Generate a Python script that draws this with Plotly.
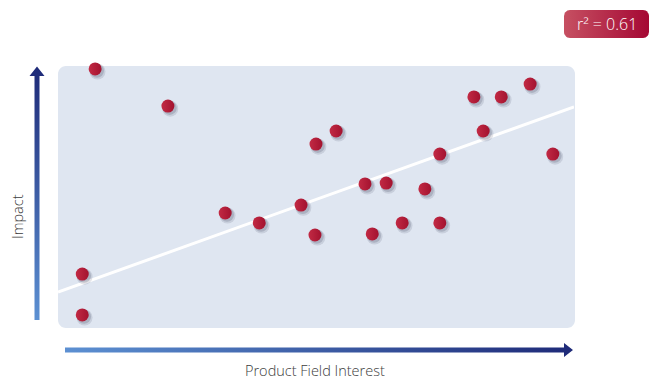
import plotly.graph_objects as go
import numpy as np

# ---- data ----
interest = [7.2, 21.3, 4.7, 4.7, 32.4, 39.0, 47.1, 49.8, 50.0, 53.9, 59.5,
            60.9, 63.6, 66.7, 71.1, 74.0, 74.0, 80.6, 82.4, 85.9, 91.5, 95.9]
impact = [98.9, 84.7, 20.6, 5.0, 43.9, 40.1, 46.9, 35.5, 70.2, 75.2, 55.0,
          35.9, 55.3, 40.1, 53.1, 66.4, 40.1, 88.2, 75.2, 88.2, 93.1, 66.4]
trend_x = [0, 100]
trend_y = [13.7, 84.4]
r2_label = "r² = 0.61"
x_title = "Product Field Interest"
y_title = "Impact"

W, H = 657, 379
FONT = "Open Sans"

fig = go.Figure()


def rounded_poly(x0, y0, x1, y1, r, n=8):
    xs, ys = [], []
    corners = [(x1 - r, y0 + r, -90, 0), (x1 - r, y1 - r, 0, 90),
               (x0 + r, y1 - r, 90, 180), (x0 + r, y0 + r, 180, 270)]
    for cx, cy, a0, a1 in corners:
        for a in np.linspace(a0, a1, n):
            xs.append(cx + r * np.cos(np.radians(a)))
            ys.append(cy + r * np.sin(np.radians(a)))
    xs.append(xs[0]); ys.append(ys[0])
    return xs, ys


# plot background rounded rect as paper shape (below everything)
bx, by = rounded_poly(58, 66, 575, 328, 8)
path = "M " + " L ".join(f"{x / W:.5f},{1 - y / H:.5f}" for x, y in zip(bx, by)) + " Z"
fig.add_shape(type="path", path=path, xref="paper", yref="paper",
              fillcolor="#dfe6f1", line=dict(width=0), layer="below")

# vertical arrow
vx = [34.5, 39.5, 39.5, 44.5, 37, 29.5, 34.5, 34.5]
vy = [320, 320, 76, 76, 66.5, 76, 76, 320]
fig.add_trace(go.Scatter(x=vx, y=vy, xaxis="x2", yaxis="y2", mode="lines",
                         fill="toself", line=dict(width=0),
                         fillgradient=dict(type="vertical", start=320, stop=67,
                                           colorscale=[[0, "#5c90d2"], [1, "#1e2a78"]]),
                         hoverinfo="skip", showlegend=False))
# horizontal arrow
hx = [65, 564, 564, 573, 564, 564, 65, 65]
hy = [347.5, 347.5, 343, 350, 357, 352.5, 352.5, 347.5]
fig.add_trace(go.Scatter(x=hx, y=hy, xaxis="x2", yaxis="y2", mode="lines",
                         fill="toself", line=dict(width=0),
                         fillgradient=dict(type="horizontal", start=65, stop=573,
                                           colorscale=[[0, "#5c90d2"], [1, "#1e2a78"]]),
                         hoverinfo="skip", showlegend=False))
# r2 badge
rx, ry = rounded_poly(564, 10, 649, 38, 6)
fig.add_trace(go.Scatter(x=rx, y=ry, xaxis="x2", yaxis="y2", mode="lines",
                         fill="toself", line=dict(width=0),
                         fillgradient=dict(type="horizontal", start=564, stop=649,
                                           colorscale=[[0, "#c65062"], [1, "#a50834"]]),
                         hoverinfo="skip", showlegend=False))

# trend line
fig.add_trace(go.Scatter(x=trend_x, y=trend_y, mode="lines",
                         line=dict(color="white", width=3),
                         hoverinfo="skip", showlegend=False))

# marker shadows
for dx, dy, s, a in [(0.45, -1.0, 16, 0.12), (0.35, -0.7, 14, 0.18)]:
    fig.add_trace(go.Scatter(x=[v + dx for v in interest], y=[v + dy for v in impact],
                             mode="markers",
                             marker=dict(size=s, color=f"rgba(40,45,70,{a})", line=dict(width=0)),
                             hoverinfo="skip", showlegend=False, cliponaxis=False))
# markers
fig.add_trace(go.Scatter(x=interest, y=impact, mode="markers",
                         marker=dict(size=13, color="#c22a44", line=dict(width=0),
                                     gradient=dict(type="horizontal", color="#a3122f")),
                         showlegend=False, cliponaxis=False))

fig.add_annotation(x=606.5, y=24, xref="x2", yref="y2", text=r2_label, showarrow=False,
                   font=dict(family=FONT, size=16, color="white", weight=300))
fig.add_annotation(x=315, y=370, xref="x2", yref="y2", text=x_title, showarrow=False,
                   font=dict(family=FONT, size=14.5, color="#3c3c3c", weight=300))
fig.add_annotation(x=17, y=217, xref="x2", yref="y2", text=y_title, showarrow=False,
                   textangle=-90, font=dict(family=FONT, size=14.5, color="#3c3c3c", weight=300))

fig.update_layout(
    width=W, height=H, margin=dict(l=0, r=0, t=0, b=0),
    paper_bgcolor="white", plot_bgcolor="rgba(0,0,0,0)",
    xaxis=dict(domain=[58 / W, 574 / W], range=[0, 100], visible=False, fixedrange=True),
    yaxis=dict(domain=[51 / H, 313 / H], range=[0, 100], visible=False, fixedrange=True),
    xaxis2=dict(domain=[0, 1], range=[0, W], visible=False, anchor="y2"),
    yaxis2=dict(domain=[0, 1], range=[H, 0], visible=False, anchor="x2"),
)
fig.write_html("out.html")
